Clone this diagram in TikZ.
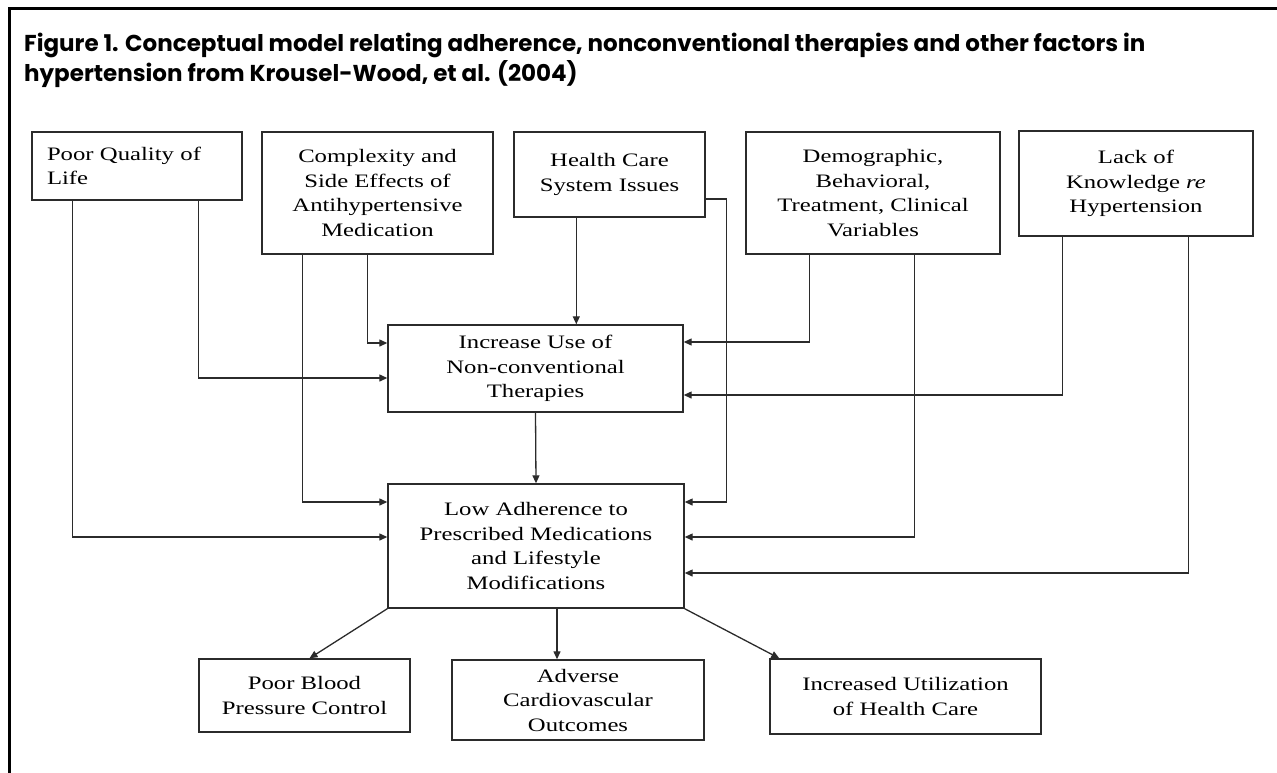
\documentclass[tikz,border=0pt]{standalone}
\usepackage{fontspec}
\setmainfont{Liberation Serif}
\newfontfamily\figfont[FakeStretch=1.3]{Liberation Serif}
\newfontfamily\captionfont{Poppins}
\usepackage{tikz}
\usetikzlibrary{arrows.meta, positioning, calc}
\definecolor{LineGray}{HTML}{2B2B2B}

\begin{document}
\begin{tikzpicture}[x=1pt, y=-1pt,
  factor_box/.style={draw=LineGray, line width=1.4pt, inner sep=0pt, align=center,
    font=\figfont\fontsize{19}{24.5}\selectfont},
  arr/.style={-{Triangle[length=8pt, width=7pt]}, line width=1.3pt, LineGray},
]
  \useasboundingbox (0,0) rectangle (1277,772);
  % page frame (top and left edge only)
  \draw[line width=3.5pt] (1282,8.5) -- (9.5,8.5) -- (9.5,777);
  \node[anchor=north west, align=left, inner sep=0pt,
    font=\captionfont\bfseries\fontsize{23}{30}\selectfont] (title) at (24,33)
    {Figure 1. Conceptual model relating adherence, nonconventional therapies and other factors in\\
     hypertension from Krousel-Wood, et al. (2004)};

  % factors
  \node[factor_box, align=left, text width=180, minimum width=210, minimum height=68] (pql) at (137,166)
    {Poor Quality of\\ Life};
  \node[factor_box, minimum width=231, minimum height=122] (cse) at (377.5,193)
    {Complexity and\\ Side Effects of\\ Antihypertensive\\ Medication};
  \node[factor_box, minimum width=191, minimum height=85] (hcs) at (609.5,174.5)
    {Health Care\\ System Issues};
  \node[factor_box, minimum width=254, minimum height=122] (dem) at (873,193)
    {Demographic,\\ Behavioral,\\ Treatment, Clinical\\ Variables};
  \node[factor_box, minimum width=234, minimum height=105] (lok) at (1136,183.5)
    {Lack of\\ Knowledge \textit{re}\\ Hypertension};

  % central boxes
  \node[factor_box, minimum width=295, minimum height=87] (inc) at (535.5,368.5)
    {Increase Use of\\ Non-conventional\\ Therapies};
  \node[factor_box, minimum width=296, minimum height=124] (low) at (536,546)
    {Low Adherence to\\ Prescribed Medications\\ and Lifestyle\\ Modifications};

  % outcomes
  \node[factor_box, minimum width=211, minimum height=73] (pbc) at (304.5,695.5)
    {Poor Blood\\ Pressure Control};
  \node[factor_box, minimum width=252, minimum height=80] (acv) at (578,700)
    {Adverse\\ Cardiovascular\\ Outcomes};
  \node[factor_box, minimum width=271, minimum height=75] (iuh) at (905.5,696.5)
    {Increased Utilization\\ of Health Care};

  % factors -> central boxes
  \draw[arr] ([xshift=167]pql.south west) |- ([yshift=-9.5]inc.west);
  \draw[arr] ([xshift=41]pql.south west) |- ([yshift=9]low.west);
  \draw[arr] ([xshift=106]cse.south west) |- ([yshift=25.5]inc.west);
  \draw[arr] ([xshift=41]cse.south west) |- ([yshift=44]low.west);
  \draw[arr] ([xshift=63]hcs.south west) coordinate (hc_tap) -- (hc_tap |- inc.north);
  \draw[arr] ([yshift=-24.5]hcs.east) -- ++(21,0) |- ([yshift=44]low.east);
  \draw[arr] ([xshift=64]dem.south west) |- ([yshift=26.5]inc.east);
  \draw[arr] ([xshift=169]dem.south west) |- ([yshift=9]low.east);
  \draw[arr] ([xshift=44]lok.south west) |- ([yshift=-26.5]inc.east);
  \draw[arr] ([xshift=170]lok.south west) |- ([yshift=-27]low.east);

  % central chain and outcomes
  \draw[arr] (inc.south) -- (low.north);
  \draw[arr] (low.south west) -- ([xshift=5]pbc.north);
  \draw[arr] ([xshift=21]low.south) coordinate (acv_tap) -- (acv_tap |- acv.north);
  \draw[arr] (low.south east) -- ([xshift=10]iuh.north west);
\end{tikzpicture}
\end{document}
